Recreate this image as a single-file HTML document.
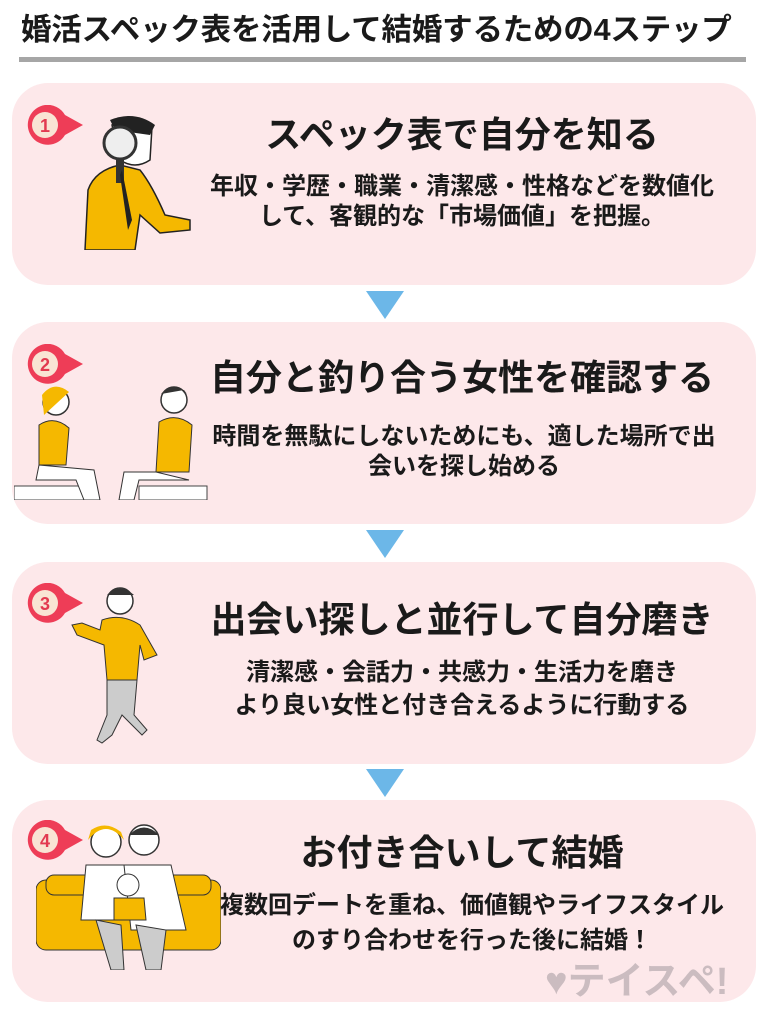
<!DOCTYPE html>
<html><head><meta charset="utf-8"><style>
*{margin:0;padding:0;box-sizing:border-box}
body{width:768px;height:1024px;background:#fff;position:relative;overflow:hidden;font-family:"Liberation Sans","Noto Sans CJK JP",sans-serif;font-weight:bold;color:#1a1a1a}
.title{position:absolute;left:21px;top:11px;font-size:30.5px;line-height:38px;white-space:nowrap;letter-spacing:-0.2px}
.rule{position:absolute;left:19px;top:57px;width:727px;height:5px;background:#a6a6a6}
.card{position:absolute;left:12px;width:744px;height:202px;background:#fde8ea;border-radius:36px}
.badge{position:absolute;left:25px;width:58px;height:40px}
.h{position:absolute;left:170px;width:584px;text-align:center;font-size:36px;line-height:44px;white-space:nowrap}
.b{position:absolute;left:170px;width:584px;text-align:center;font-size:24px;line-height:30px;white-space:nowrap}
.arr{position:absolute;left:366px;width:0;height:0;border-left:19px solid transparent;border-right:19px solid transparent;border-top:28px solid #6cb7e8}
.ill{position:absolute}
</style></head><body>
<div class="title">婚活スペック表を活用して結婚するための4ステップ</div>
<div class="rule"></div>

<div class="card" style="top:83px"></div>
<div class="card" style="top:322px"></div>
<div class="card" style="top:562px"></div>
<div class="card" style="top:800px"></div>

<div class="arr" style="top:291px"></div>
<div class="arr" style="top:530px"></div>
<div class="arr" style="top:769px"></div>

<svg class="badge" style="top:105px" viewBox="0 0 58 40"><path d="M20 0 A20 20 0 1 0 40 30 L58 20 L40 10 A20 20 0 0 0 20 0Z" fill="#ee3d57"/><circle cx="20" cy="20" r="13" fill="#f9e4d4"/><text x="20" y="27" text-anchor="middle" font-size="18" font-weight="bold" fill="#e23a50" font-family="Liberation Sans">1</text></svg>
<svg class="badge" style="top:344px" viewBox="0 0 58 40"><path d="M20 0 A20 20 0 1 0 40 30 L58 20 L40 10 A20 20 0 0 0 20 0Z" fill="#ee3d57"/><circle cx="20" cy="20" r="13" fill="#f9e4d4"/><text x="20" y="27" text-anchor="middle" font-size="18" font-weight="bold" fill="#e23a50" font-family="Liberation Sans">2</text></svg>
<svg class="badge" style="top:583px" viewBox="0 0 58 40"><path d="M20 0 A20 20 0 1 0 40 30 L58 20 L40 10 A20 20 0 0 0 20 0Z" fill="#ee3d57"/><circle cx="20" cy="20" r="13" fill="#f9e4d4"/><text x="20" y="27" text-anchor="middle" font-size="18" font-weight="bold" fill="#e23a50" font-family="Liberation Sans">3</text></svg>
<svg class="badge" style="top:820px" viewBox="0 0 58 40"><path d="M20 0 A20 20 0 1 0 40 30 L58 20 L40 10 A20 20 0 0 0 20 0Z" fill="#ee3d57"/><circle cx="20" cy="20" r="13" fill="#f9e4d4"/><text x="20" y="27" text-anchor="middle" font-size="18" font-weight="bold" fill="#e23a50" font-family="Liberation Sans">4</text></svg>

<svg class="ill" style="left:80px;top:115px" width="115" height="135" viewBox="0 0 115 135">
<path d="M5 135 L8 75 Q15 55 40 50 L60 55 Q72 70 85 100 L110 105 L110 115 L80 118 L60 100 L55 135Z" fill="#f5b800" stroke="#222" stroke-width="1.5"/>
<path d="M32 10 Q55 0 72 12 L70 45 Q55 55 40 45Z" fill="#fff" stroke="#222" stroke-width="1.5"/>
<path d="M30 5 Q55 -5 75 10 L70 20 L35 15Z" fill="#222"/>
<circle cx="40" cy="28" r="16" fill="#eee" stroke="#333" stroke-width="3"/>
<rect x="36" y="44" width="8" height="24" fill="#333"/>
<path d="M42 55 L52 105 L48 115 L40 60Z" fill="#222"/>
</svg>
<svg class="ill" style="left:14px;top:380px" width="195" height="120" viewBox="0 0 195 120">
<rect x="0" y="106" width="72" height="14" fill="#fff" stroke="#444"/>
<rect x="125" y="106" width="68" height="14" fill="#fff" stroke="#444"/>
<circle cx="42" cy="22" r="13" fill="#fff" stroke="#333" stroke-width="1.5"/>
<path d="M28 15 Q40 0 55 12 L30 35Z" fill="#f5b800"/>
<path d="M25 45 Q40 35 55 48 L52 85 L25 85Z" fill="#f5b800" stroke="#333"/>
<path d="M25 85 L80 90 L86 120 L70 120 L62 100 L22 100Z" fill="#fff" stroke="#333"/>
<circle cx="160" cy="20" r="13" fill="#fff" stroke="#333" stroke-width="1.5"/>
<path d="M147 14 Q160 0 173 14 L170 10Z" fill="#333"/>
<path d="M145 42 Q162 32 178 45 L175 92 L142 92Z" fill="#f5b800" stroke="#333"/>
<path d="M142 92 L110 92 L105 120 L120 120 L125 100 L175 100Z" fill="#fff" stroke="#333"/>
</svg>
<svg class="ill" style="left:62px;top:585px" width="100" height="170" viewBox="0 0 100 170">
<circle cx="58" cy="16" r="13" fill="#fff" stroke="#333" stroke-width="1.5"/>
<path d="M45 10 Q58 -3 72 10Z" fill="#333"/>
<path d="M40 35 Q60 28 78 40 L95 70 L82 75 L78 60 L75 95 L45 95 L42 60 L15 50 L10 40 L20 38 L38 45Z" fill="#f5b800" stroke="#333"/>
<path d="M45 95 L75 95 L72 130 L85 145 L80 150 L60 130 L50 150 L40 158 L35 155 L45 130Z" fill="#ccc" stroke="#333"/>
</svg>
<svg class="ill" style="left:36px;top:820px" width="185" height="150" viewBox="0 0 185 150">
<rect x="0" y="60" width="185" height="70" rx="10" fill="#f5b800" stroke="#333"/>
<rect x="10" y="55" width="165" height="20" rx="8" fill="#f5b800" stroke="#333"/>
<circle cx="70" cy="22" r="15" fill="#fff" stroke="#333" stroke-width="1.5"/>
<path d="M52 20 Q70 -2 88 20 L85 12 Q70 0 55 10Z" fill="#f5b800"/>
<circle cx="108" cy="20" r="15" fill="#fff" stroke="#333" stroke-width="1.5"/>
<path d="M93 15 Q108 0 123 15Z" fill="#333"/>
<path d="M50 45 L90 45 L95 100 L45 100Z" fill="#fff" stroke="#333"/>
<path d="M88 45 L135 45 L150 110 L95 110Z" fill="#fff" stroke="#333"/>
<circle cx="92" cy="65" r="11" fill="#fff" stroke="#333"/>
<path d="M78 78 L108 78 L110 100 L78 100Z" fill="#f5b800" stroke="#333"/>
<path d="M60 100 L75 150 L88 150 L85 105Z" fill="#ccc" stroke="#333"/>
<path d="M100 105 L110 150 L125 150 L130 110Z" fill="#ccc" stroke="#333"/>
</svg>

<div class="h" style="top:113px">スペック表で自分を知る</div>
<div class="b" style="top:172px">年収・学歴・職業・清潔感・性格などを数値化<br>して、客観的な「市場価値」を把握。</div>

<div class="h" style="top:356px">自分と釣り合う女性を確認する</div>
<div class="b" style="top:422px;left:172px">時間を無駄にしないためにも、適した場所で出<br>会いを探し始める</div>

<div class="h" style="top:598px">出会い探しと並行して自分磨き</div>
<div class="b" style="top:656px;line-height:33px">清潔感・会話力・共感力・生活力を磨き<br>より良い女性と付き合えるように行動する</div>

<div class="h" style="top:831px">お付き合いして結婚</div>
<div class="b" style="top:888px;line-height:35px;left:180px">複数回デートを重ね、価値観やライフスタイル<br>のすり合わせを行った後に結婚！</div>

<div style="position:absolute;left:545px;top:950px;font-size:38px;color:#cbbcc0;white-space:nowrap">♥テイスペ!</div>
</body></html>
